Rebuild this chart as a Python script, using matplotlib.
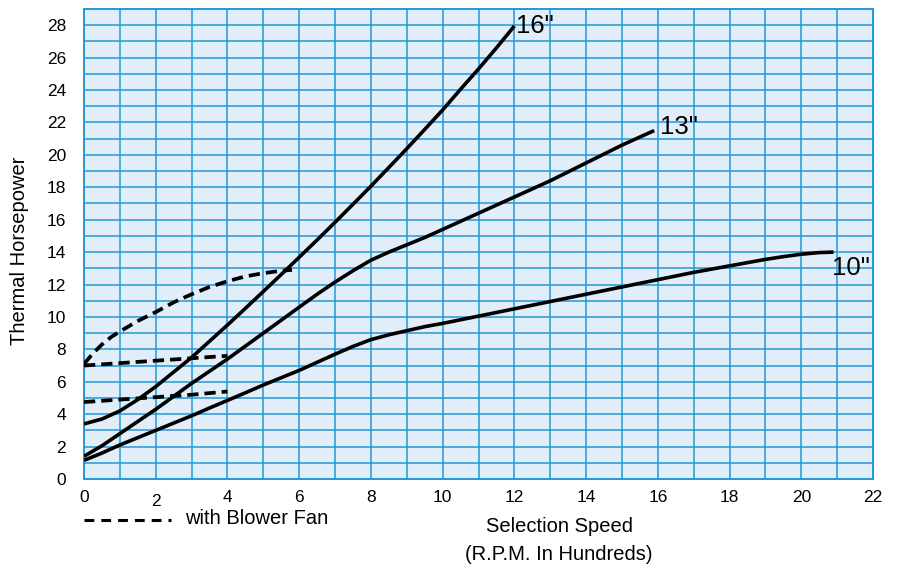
import matplotlib
matplotlib.use("Agg")
import matplotlib.pyplot as plt
from matplotlib.lines import Line2D

plt.rcParams["font.family"] = ["Liberation Sans", "DejaVu Sans"]

# solid curves (thermal horsepower vs speed, hundreds of rpm)
rpm_16 = [0, 0.5, 1, 1.5, 2, 2.5, 3, 3.5, 4, 4.5, 5, 5.5, 6, 6.5, 7, 7.5, 8,
          8.5, 9, 9.5, 10, 10.5, 11, 11.5, 12]
hp_16 = [3.4, 3.7, 4.2, 4.9, 5.7, 6.6, 7.5, 8.5, 9.5, 10.53, 11.57, 12.62,
         13.68, 14.75, 15.84, 16.95, 18.07, 19.22, 20.38, 21.57, 22.77, 24.05,
         25.3, 26.6, 27.95]

rpm_13 = [0, 0.5, 1, 1.5, 2, 2.5, 3, 3.5, 4, 4.5, 5, 5.5, 6, 6.5, 7, 7.5, 8,
          8.5, 9, 9.5, 10, 11, 12, 13, 14, 15, 15.5, 15.9]
hp_13 = [1.4, 2.05, 2.8, 3.55, 4.3, 5.1, 5.9, 6.65, 7.4, 8.2, 9.0, 9.8, 10.6,
         11.4, 12.15, 12.85, 13.5, 14.0, 14.45, 14.9, 15.4, 16.4, 17.4, 18.4,
         19.5, 20.6, 21.1, 21.5]

rpm_10 = [0, 0.5, 1, 1.5, 2, 2.5, 3, 3.5, 4, 4.5, 5, 5.5, 6, 6.5, 7, 7.5, 8,
          8.5, 9, 9.5, 10, 11, 12, 13, 14, 15, 16, 17, 18, 19, 19.5, 20, 20.5,
          20.9]
hp_10 = [1.15, 1.6, 2.1, 2.55, 3.0, 3.45, 3.9, 4.38, 4.85, 5.32, 5.8, 6.25,
         6.7, 7.2, 7.7, 8.18, 8.6, 8.9, 9.15, 9.4, 9.6, 10.05, 10.5, 10.95,
         11.4, 11.85, 12.3, 12.75, 13.15, 13.55, 13.72, 13.87, 13.97, 14.0]

# dashed curves (with blower fan)
rpm_fan_a = [0, 0.25, 0.5, 0.75, 1, 1.5, 2, 2.5, 3, 3.5, 4, 4.5, 5, 5.5, 5.8]
hp_fan_a = [7.1, 7.75, 8.3, 8.75, 9.1, 9.75, 10.3, 10.9, 11.4, 11.85, 12.2,
            12.5, 12.7, 12.85, 12.9]

rpm_fan_b = [0, 1, 2, 3, 4]
hp_fan_b = [7.0, 7.15, 7.3, 7.45, 7.6]

rpm_fan_c = [0, 1, 2, 3, 4]
hp_fan_c = [4.75, 4.9, 5.05, 5.2, 5.4]

x_ticks = list(range(0, 23, 2))
y_ticks = list(range(0, 29, 2))

grid_blue = "#2299d6"

fig = plt.figure(figsize=(8.98, 5.70), dpi=100)
ax = fig.add_axes([84 / 898, 1 - 479 / 570, (873 - 84) / 898, (479 - 9) / 570])
ax.set_facecolor("#e1eef9")
ax.set_xlim(0, 22)
ax.set_ylim(0, 29)

# grid every unit
for gx in range(1, 22):
    ax.axvline(gx, color=grid_blue, lw=1.1, zorder=1)
for gy in range(1, 29):
    ax.axhline(gy, color=grid_blue, lw=1.1, zorder=1)
for s in ax.spines.values():
    s.set_color(grid_blue)
    s.set_linewidth(1.4)

ax.set_xticks(x_ticks)
ax.set_yticks(y_ticks)
ax.tick_params(axis="both", length=0, labelsize=12.5)
ax.tick_params(axis="x", pad=8)
ax.tick_params(axis="y", pad=13)
ax.get_xticklabels()[1].set_y(-0.008)

solid = dict(color="black", lw=2.6, solid_capstyle="butt",
             solid_joinstyle="round", zorder=3)
ax.plot(rpm_16, hp_16, **solid)
ax.plot(rpm_13, hp_13, **solid)
ax.plot(rpm_10, hp_10, **solid)

dashed = dict(color="black", lw=2.7, dashes=(3, 1.6), zorder=3)
ax.plot(rpm_fan_a, hp_fan_a, **dashed)
ax.plot(rpm_fan_b, hp_fan_b, **dashed)
ax.plot(rpm_fan_c, hp_fan_c, **dashed)

ax.text(12.05, 27.95, '16"', fontsize=18.5, ha="left", va="center", zorder=4)
ax.text(16.05, 21.7, '13"', fontsize=18.5, ha="left", va="center", zorder=4)
ax.text(20.85, 13.0, '10"', fontsize=18.5, ha="left", va="center", zorder=4)

fig.text(20 / 898, 1 - 251 / 570, "Thermal Horsepower", rotation=90,
         fontsize=14.5, ha="center", va="center")
fig.text(559 / 898, 1 - 527 / 570, "Selection Speed", fontsize=14.5,
         ha="center", va="center")
fig.text(559 / 898, 1 - 555 / 570, "(R.P.M. In Hundreds)", fontsize=14.5,
         ha="center", va="center")

fig.add_artist(Line2D([84 / 898, 171 / 898], [1 - 520 / 570, 1 - 520 / 570],
                      color="black", lw=2.2, dashes=(3.2, 2.3)))
fig.text(185 / 898, 1 - 519 / 570, "with Blower Fan", fontsize=14.5,
         ha="left", va="center")

fig.savefig("out.png", dpi=100)
